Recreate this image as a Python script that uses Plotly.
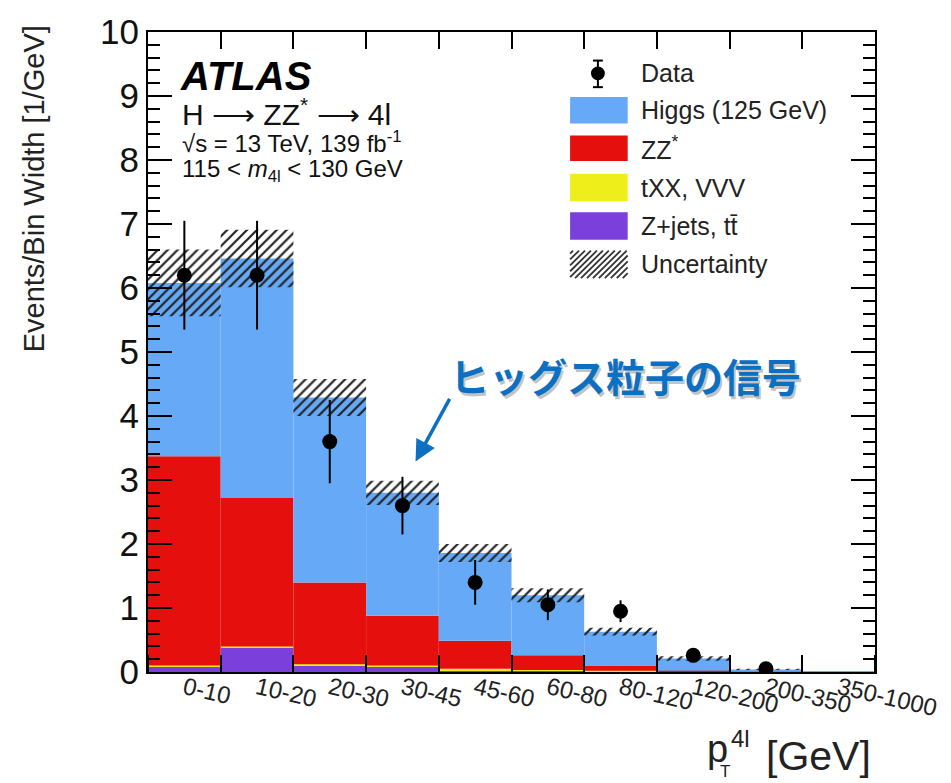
import numpy as np
import plotly.graph_objects as go

# ---------------- data ----------------
bins = ["0-10", "10-20", "20-30", "30-45", "45-60", "60-80",
        "80-120", "120-200", "200-350", "350-1000"]
zjets = [0.08, 0.38, 0.10, 0.08, 0.03, 0.02, 0.01, 0.005, 0.002, 0.0]
txx = [0.02, 0.02, 0.02, 0.02, 0.02, 0.01, 0.01, 0.005, 0.002, 0.0]
zz = [3.27, 2.32, 1.28, 0.78, 0.44, 0.23, 0.08, 0.01, 0.001, 0.0]
higgs = [2.71, 3.74, 2.89, 1.92, 1.37, 0.94, 0.53, 0.19, 0.035, 0.001]
unc = [0.52, 0.45, 0.29, 0.19, 0.14, 0.11, 0.06, 0.035, 0.01, 0.0]
data = [6.2, 6.2, 3.6, 2.6, 1.4, 1.05, 0.95, 0.26, 0.05, None]
data_err = [0.85, 0.85, 0.65, 0.45, 0.35, 0.24, 0.17, 0.06, 0.03, None]

y_ticks = list(range(0, 11))

BLUE = "#66AAF7"
RED = "#E5100E"
YELLOW = "#EEEE1A"
PURPLE = "#7B3FDC"

xc = np.arange(len(bins)) + 0.5
edges = list(range(len(bins) + 1))

b0 = np.zeros(len(bins))
b1 = b0 + np.array(zjets)
b2 = b1 + np.array(txx)
b3 = b2 + np.array(zz)
total = b3 + np.array(higgs)

fig = go.Figure()
for vals, base, col, name in [(zjets, b0, PURPLE, "Z+jets"), (txx, b1, YELLOW, "tXX"),
                              (zz, b2, RED, "ZZ"), (higgs, b3, BLUE, "Higgs")]:
    fig.add_trace(go.Bar(x=xc, y=vals, base=base, width=1.0, marker=dict(color=col, line=dict(width=0)),
                         showlegend=False, name=name))

unc_arr = np.array(unc)
fig.add_trace(go.Bar(x=xc, y=2 * unc_arr, base=total - unc_arr, width=1.0,
                     marker=dict(color="rgba(0,0,0,0)", line=dict(width=0),
                                 pattern=dict(shape="/", fgcolor="#222", bgcolor="rgba(0,0,0,0)",
                                              size=7, solidity=0.32, fillmode="replace")),
                     showlegend=False, name="Uncertainty"))

fig.add_trace(go.Scatter(x=xc, y=data, mode="markers",
                         marker=dict(color="black", size=15),
                         error_y=dict(type="data", array=data_err, color="black", thickness=2, width=0),
                         showlegend=False, name="Data"))

L, R, T, B = 148, 880, 22, 672
W, H = 951, 783


def px(x):
    return (x - L) / (R - L)


def py(y):
    return (B - y) / (B - T)


FONT = "Liberation Sans, Arial, Helvetica, sans-serif"

fig.update_layout(
    width=W, height=H,
    margin=dict(l=L, r=W - R, t=T, b=H - B),
    paper_bgcolor="white", plot_bgcolor="white",
    barmode="overlay",
    font=dict(family=FONT, color="black"),
    showlegend=False,
)

fig.update_xaxes(range=[0, 10], tickmode="array", tickvals=xc, ticktext=bins,
                 ticks="", tickangle=13, tickfont=dict(size=24, color="#222"),
                 ticklabelstandoff=-9,
                 showgrid=False, zeroline=False, showline=True, linecolor="black", linewidth=2,
                 mirror=True,
                 minor=dict(tickmode="array", tickvals=edges, ticks="inside", ticklen=17,
                            tickwidth=2, tickcolor="black", showgrid=False))
fig.update_yaxes(range=[0, 10], tickmode="array", tickvals=y_ticks, ticks="inside", ticklen=24,
                 tickwidth=2, tickcolor="black", tickfont=dict(size=35, color="#111"),
                 showgrid=False, zeroline=False, showline=True, linecolor="black", linewidth=2,
                 mirror="ticks",
                 minor=dict(dtick=0.2, tick0=0, ticks="inside", ticklen=12, tickwidth=2,
                            tickcolor="black", showgrid=False))

# top mirrored ticks via overlay axis
fig.update_layout(
    xaxis2=dict(overlaying="x", matches="x", side="top", range=[0, 10], tickmode="array",
                tickvals=edges, ticks="inside", ticklen=17, tickwidth=2, tickcolor="black",
                showticklabels=False, showgrid=False, zeroline=False),
)
fig.add_trace(go.Scatter(x=[None], y=[None], xaxis="x2", showlegend=False))

ann = []
# y-axis title (top aligned as in ROOT)
ann.append(dict(text="Events/Bin Width [1/GeV]", x=px(33), y=py(181), xref="paper", yref="paper",
                xanchor="center", yanchor="middle", textangle=-90, showarrow=False,
                font=dict(size=29, color="#222")))

# ATLAS labels
ann.append(dict(text="<b><i>ATLAS</i></b>", x=px(178), y=py(67), xref="paper", yref="paper",
                xanchor="left", yanchor="middle", showarrow=False, font=dict(size=40, color="black")))
ann.append(dict(text="H ⟶ ZZ<sup>*</sup> ⟶ 4l", x=px(180), y=py(103), xref="paper", yref="paper",
                xanchor="left", yanchor="middle", showarrow=False, font=dict(size=30, color="#111")))
ann.append(dict(text="√s = 13 TeV, 139 fb<sup>-1</sup>", x=px(180), y=py(134), xref="paper", yref="paper",
                xanchor="left", yanchor="middle", showarrow=False, font=dict(size=24, color="#111")))
ann.append(dict(text="115 &lt; <i>m</i><sub>4l</sub> &lt; 130 GeV", x=px(180), y=py(163), xref="paper",
                yref="paper", xanchor="left", yanchor="middle", showarrow=False,
                font=dict(size=24, color="#111")))

# x-axis title: p_T^{4l} [GeV]
ann.append(dict(text="[GeV]", x=px(878), y=py(757), xref="paper", yref="paper",
                xanchor="right", yanchor="middle", showarrow=False, font=dict(size=41, color="#222")))
ann.append(dict(text="p", x=px(709), y=py(750), xref="paper", yref="paper",
                xanchor="left", yanchor="middle", showarrow=False, font=dict(size=38, color="#222")))
ann.append(dict(text="4l", x=px(733), y=py(740), xref="paper", yref="paper",
                xanchor="left", yanchor="middle", showarrow=False, font=dict(size=24, color="#222")))
ann.append(dict(text="T", x=px(722), y=py(773), xref="paper", yref="paper",
                xanchor="left", yanchor="middle", showarrow=False, font=dict(size=17, color="#222")))

# Japanese annotation with shadow
for dx, dy, col in [(2, 3, "rgba(120,120,120,0.45)"), (0, 0, "#0B70C2")]:
    ann.append(dict(text="<b>ヒッグス粒子の信号</b>", x=px(629 + dx), y=py(370 + dy), xref="paper",
                    yref="paper", xanchor="center", yanchor="middle", showarrow=False,
                    font=dict(size=39, color=col, family="Noto Sans CJK JP")))
ann.append(dict(text="", x=3.68, y=3.29, ax=4.16, ay=4.29, xref="x", yref="y", axref="x", ayref="y",
                showarrow=True, arrowhead=2, arrowsize=1.2, arrowwidth=3.5, arrowcolor="#0B70C2"))

# Legend (manual)
leg_items = [("Data", 64), ("Higgs (125 GeV)", 101), ("ZZ<sup>*</sup>", 140), ("tXX, VVV", 180),
             ("Z+jets, tt̄", 219), ("Uncertainty", 258)]
for txt, yy in leg_items:
    ann.append(dict(text=txt, x=px(642), y=py(yy), xref="paper", yref="paper", xanchor="left",
                    yanchor="middle", showarrow=False, font=dict(size=25, color="#222")))

shapes = []
for col, (y0, y1) in [(BLUE, (88, 115)), (RED, (127, 153)), (YELLOW, (166, 194)), (PURPLE, (205, 233))]:
    shapes.append(dict(type="rect", xref="paper", yref="paper", x0=px(573), x1=px(631), y0=py(y1), y1=py(y0),
                       fillcolor=col, line=dict(width=0)))
# hatched legend box
hx0, hx1, hy0, hy1 = 573, 631, 244, 272
hh = hy1 - hy0
for c in range(-hh + 3, hx1 - hx0, 6):
    xs, ys = hx0 + c, hy1
    xe, ye = hx0 + c + hh, hy0
    if xs < hx0:
        ys = hy1 + (xs - hx0)
        xs = hx0
    if xe > hx1:
        ye = hy0 + (xe - hx1)
        xe = hx1
    shapes.append(dict(type="line", xref="paper", yref="paper", x0=px(xs), y0=py(ys), x1=px(xe), y1=py(ye),
                       line=dict(color="#333", width=1.8)))
# data legend marker
shapes.append(dict(type="line", xref="paper", yref="paper", x0=px(601), x1=px(601), y0=py(51), y1=py(78),
                   line=dict(color="black", width=2)))
for yy in (51, 78):
    shapes.append(dict(type="line", xref="paper", yref="paper", x0=px(596), x1=px(606), y0=py(yy), y1=py(yy),
                       line=dict(color="black", width=2)))
shapes.append(dict(type="circle", xref="paper", yref="paper", x0=px(594), x1=px(608), y0=py(71), y1=py(57),
                   fillcolor="black", line=dict(width=0)))

fig.update_layout(annotations=ann, shapes=shapes)

fig.write_html("out.html")
